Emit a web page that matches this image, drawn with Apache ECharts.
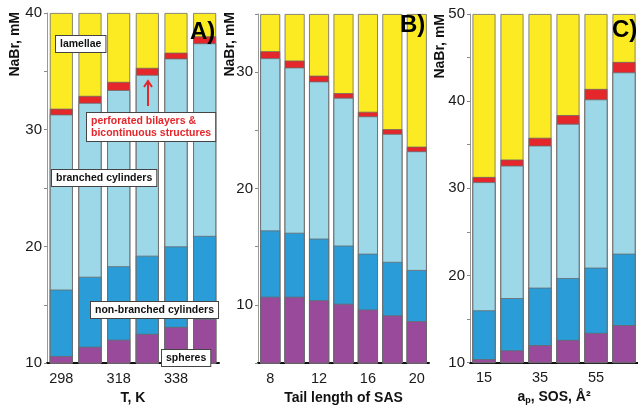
<!DOCTYPE html>
<html><head><meta charset="utf-8">
<script src="https://cdn.jsdelivr.net/npm/echarts/dist/echarts.min.js"></script>
<style>html,body{margin:0;padding:0;background:#fff}#c{width:638px;height:410px}</style>
</head><body><div id="c"></div><script>
// Panel A: temperature
const catsA = ['298', '308', '318', '328', '338', '348'];
const spheresA = [10.6, 11.4, 12.0, 12.5, 13.1, 13.8];
const nonBranchedA = [16.3, 17.4, 18.3, 19.2, 20.0, 20.9];
const branchedA = [31.3, 32.3, 33.4, 34.7, 36.1, 37.4];
const perforatedA = [31.8, 32.9, 34.1, 35.3, 36.6, 38.0];
const lamellaeA = [40, 40, 40, 40, 40, 40];
// Panel B: tail length of SAS
const catsB = ['8', '10', '12', '14', '16', '18', '20'];
const spheresB = [10.7, 10.7, 10.4, 10.1, 9.6, 9.1, 8.6];
const nonBranchedB = [16.4, 16.2, 15.7, 15.1, 14.4, 13.7, 13.0];
const branchedB = [31.2, 30.4, 29.2, 27.8, 26.2, 24.7, 23.2];
const perforatedB = [31.8, 31.0, 29.7, 28.2, 26.6, 25.1, 23.6];
const lamellaeB = [35, 35, 35, 35, 35, 35, 35];
// Panel C: head group area of SOS
const catsC = ['15', '25', '35', '45', '55', '65'];
const spheresC = [10.4, 11.4, 12.0, 12.6, 13.4, 14.3];
const nonBranchedC = [16.0, 17.4, 18.6, 19.7, 20.9, 22.5];
const branchedC = [30.7, 32.6, 34.9, 37.4, 40.2, 43.3];
const perforatedC = [31.3, 33.3, 35.8, 38.4, 41.4, 44.5];
const lamellaeC = [50, 50, 50, 50, 50, 50];

const FONT = "'Liberation Sans', Arial, sans-serif";
const COLORS = {
  lamellae: '#FCEB22', perforated: '#E5262B', branched: '#9DD8E9',
  nonBranched: '#2A9CD8', spheres: '#9A4A9B'
};

function panelSeries(idx, layers, barWidth) {
  const order = ['lamellae', 'perforated', 'branched', 'nonBranched', 'spheres'];
  return order.map(k => ({
    type: 'bar', name: k, xAxisIndex: idx, yAxisIndex: idx,
    data: layers[k], barWidth: barWidth, barGap: '-100%',
    itemStyle: { color: COLORS[k], borderColor: '#6a6a6a', borderWidth: 0.8 },
    silent: true, clip: true
  }));
}

function yAx(idx, min, max) {
  return {
    type: 'value', gridIndex: idx, min: min, max: max, interval: 5,
    splitLine: { show: false },
    axisLine: { show: true, lineStyle: { color: '#999', width: 1 } },
    axisTick: { show: true, length: 3, lineStyle: { color: '#888' } },
    axisLabel: {
      margin: 5, fontSize: 15, color: '#1a1a1a', fontFamily: FONT,
      formatter: v => (v % 10 === 0 ? String(v) : '')
    }
  };
}
function xAx(idx, cats, name, extra) {
  return Object.assign({
    type: 'category', gridIndex: idx, data: cats,
    axisLine: { show: true, lineStyle: { color: '#111', width: 2 } },
    axisTick: { show: false },
    axisLabel: { interval: 1, margin: 8, fontSize: 14.5, color: '#1a1a1a', fontFamily: FONT },
    name: name, nameLocation: 'middle', nameGap: 23,
    nameTextStyle: { fontSize: 14, fontWeight: 'bold', color: '#111', fontFamily: FONT }
  }, extra || {});
}

function yTitle(x, y) {
  return {
    type: 'text', x: x, y: y, rotation: Math.PI / 2, silent: true,
    style: { text: 'NaBr, mM', font: 'bold 14px ' + FONT, fill: '#111',
      textAlign: 'right', textVerticalAlign: 'middle' }
  };
}
function letter(t, x, y) {
  return {
    type: 'text', x: x, y: y, silent: true, z: 100,
    style: { text: t, font: 'bold 24px ' + FONT, fill: '#000',
      textAlign: 'left', textVerticalAlign: 'middle' }
  };
}
function box(t, x, y, color) {
  return {
    type: 'text', x: x, y: y, silent: true, z: 100,
    style: { text: t, font: 'bold 10.5px ' + FONT, fill: color || '#111',
      textAlign: 'left', textVerticalAlign: 'top',
      backgroundColor: '#fff', borderColor: '#444', borderWidth: 1,
      padding: [2, 4, 2, 4], lineHeight: 12 }
  };
}

const chart = echarts.init(document.getElementById('c'), null, { renderer: 'canvas' });
chart.setOption({
  animation: false,
  backgroundColor: '#fff',
  grid: [
    { left: 47, top: 13, width: 172, height: 357 },
    { left: 258, top: 14, width: 171, height: 357.5 },
    { left: 470, top: 14, width: 170, height: 357.5 }
  ],
  xAxis: [
    xAx(0, catsA, 'T, K'),
    xAx(1, catsB, 'Tail length of SAS'),
    xAx(2, catsC, '{b|a}{s|p}{b|, SOS, Å²}', {
      nameTextStyle: { fontSize: 14, fontWeight: 'bold', color: '#111', fontFamily: FONT,
        rich: {
          b: { fontSize: 14, fontWeight: 'bold', color: '#111', fontFamily: FONT },
          s: { fontSize: 9, fontWeight: 'bold', color: '#111', fontFamily: FONT, verticalAlign: 'bottom', padding: [6, 0, 0, 0] }
        } }
    })
  ],
  yAxis: [yAx(0, 10, 40), yAx(1, 5, 35), yAx(2, 10, 50)],
  series: [].concat(
    panelSeries(0, { lamellae: lamellaeA, perforated: perforatedA, branched: branchedA, nonBranched: nonBranchedA, spheres: spheresA }, 23),
    panelSeries(1, { lamellae: lamellaeB, perforated: perforatedB, branched: branchedB, nonBranched: nonBranchedB, spheres: spheresB }, 20),
    panelSeries(2, { lamellae: lamellaeC, perforated: perforatedC, branched: branchedC, nonBranched: nonBranchedC, spheres: spheresC }, 23)
  ),
  graphic: [
    yTitle(15, 12), yTitle(230, 12), yTitle(440, 14),
    letter('A)', 190, 32), letter('B)', 400, 25), letter('C)', 612, 30),
    box('lamellae', 56, 36),
    box('perforated bilayers &\nbicontinuous structures', 87, 113, '#E5262B'),
    box('branched cylinders', 52, 170),
    box('non-branched cylinders', 91, 302),
    box('spheres', 162, 350),
    { type: 'line', silent: true, z: 100,
      shape: { x1: 148, y1: 106, x2: 148, y2: 82 },
      style: { stroke: '#E5262B', lineWidth: 2 } },
    { type: 'polyline', silent: true, z: 100,
      shape: { points: [[144, 87], [148, 81], [152, 87]] },
      style: { stroke: '#E5262B', lineWidth: 2, fill: null } }
  ]
});
</script></body></html>
